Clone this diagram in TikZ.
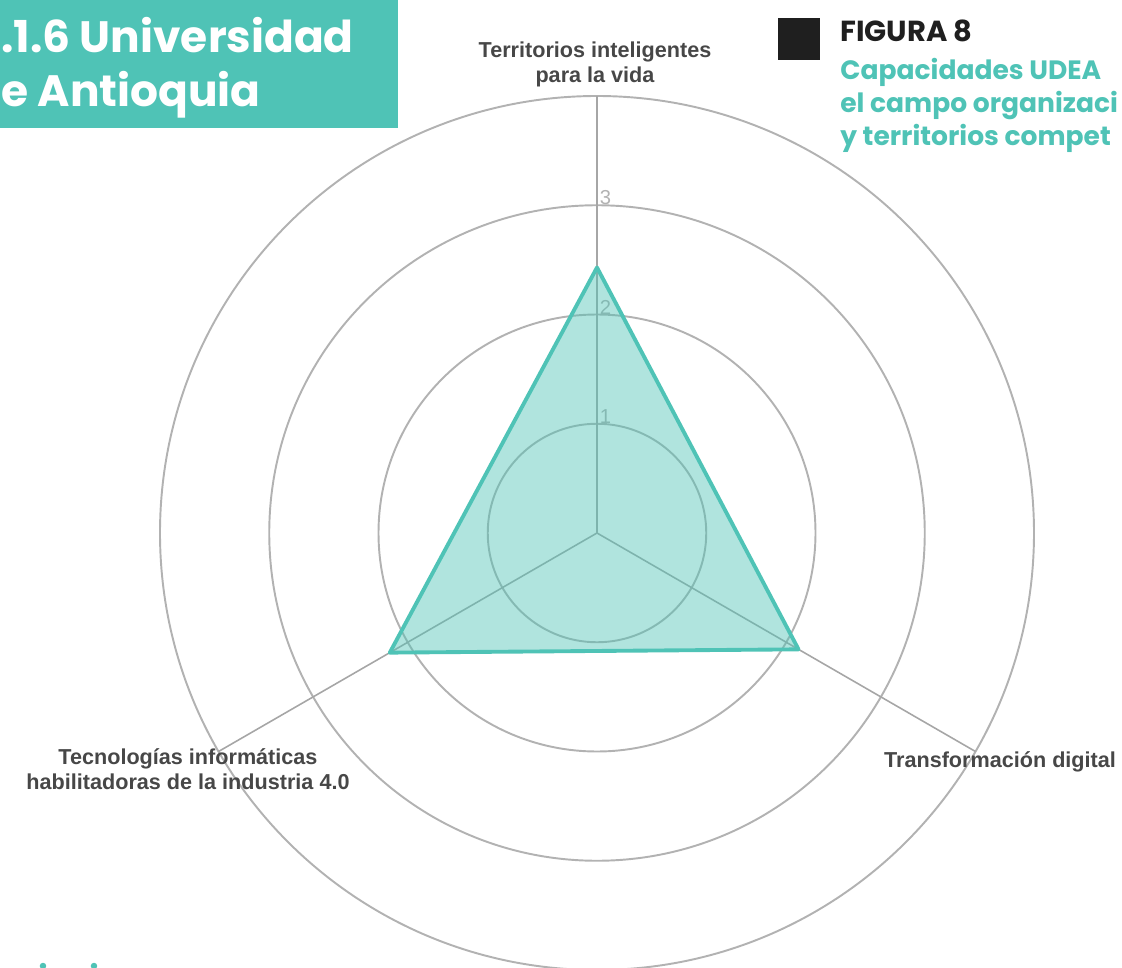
\documentclass[tikz,border=0pt]{standalone}
\usepackage{fontspec}
\setmainfont{Liberation Sans}
\newfontfamily\titlefont{Poppins}
\usetikzlibrary{positioning}
\definecolor{udeateal}{RGB}{79,195,182}
\tikzset{ring/.style={draw=gray!60,line width=1.1pt}}

\begin{document}
\begin{tikzpicture}[
            axis/.style={draw=gray!70,line width=0.9pt},
            axlabel/.style={font=\fontsize{12.3}{14.2}\selectfont\bfseries,text=black!72,align=center,inner sep=0pt},
            tick/.style={font=\fontsize{11.5}{12}\selectfont,text=gray!60,inner sep=0pt}
        ]
            \def\rs{2.185}
            \useasboundingbox (-11.94,-8.68) rectangle (10.5,10.66);
            % heading block
            \fill [udeateal] (-11.94,8.1) rectangle (-3.98,10.66);
            \node [anchor=base west,inner sep=0pt,text=white,font=\titlefont\fontsize{25}{30}\selectfont\bfseries] (head1) at (-11.92,9.6) {.1.6 Universidad};
            \node [anchor=base west,inner sep=0pt,text=white,font=\titlefont\fontsize{25}{30}\selectfont\bfseries] (head2) at (-11.92,8.52) {e Antioquia};
            \fill [udeateal] (-11.08,-8.66) circle (0.065) (-10.06,-8.66) circle (0.065);
            % caption
            \fill [black!88] (3.62,9.46) rectangle (4.46,10.3);
            \node [anchor=base west,inner sep=0pt,font=\titlefont\fontsize{16.5}{20}\selectfont\bfseries,text=black!88] (fig) at (4.86,9.82) {FIGURA 8};
            \begin{scope}[every node/.append style={anchor=base west,inner sep=0pt,text=udeateal,font=\titlefont\fontsize{15.1}{19}\selectfont\bfseries}]
                \node (cap1) at (4.86,9.06) {Capacidades UDEA};
                \node (cap2) at (4.86,8.4) {el campo organizaci};
                \node (cap3) at (4.86,7.74) {y territorios compet};
            \end{scope}
            % radar
            \coordinate (c) at (0,0);
            \foreach \r in {1,2,3,4} {
                \draw [ring] (c) circle ({\r*\rs});
            }
            \coordinate (ax1) at (90:4*\rs);
            \coordinate (ax2) at (-30:4*\rs);
            \coordinate (ax3) at (210:4*\rs);
            \foreach \a in {1,2,3} {
                \draw [axis] (c) -- (ax\a);
            }
            \foreach \r in {1,2,3} {
                \node [tick,anchor=south west] (tick\r) at (0.05,{\r*\rs}) {\r};
            }
            \coordinate (d1) at (90:2.43*\rs);
            \coordinate (d2) at (-30:2.13*\rs);
            \coordinate (d3) at (210:2.19*\rs);
            \filldraw [fill=udeateal,fill opacity=0.45,draw=udeateal,line width=2.2pt,line join=round] (d1) -- (d2) -- (d3) -- cycle;
            \node [axlabel] (lbltop) at (-0.04,9.37) {Territorios inteligentes\\para la vida};
            \node [axlabel] (lblleft) at (-8.18,-4.73) {Tecnologías informáticas\\habilitadoras de la industria 4.0};
            \node [axlabel] (lblright) at (8.06,-4.58) {Transformación digital};
        \end{tikzpicture}
\end{document}
